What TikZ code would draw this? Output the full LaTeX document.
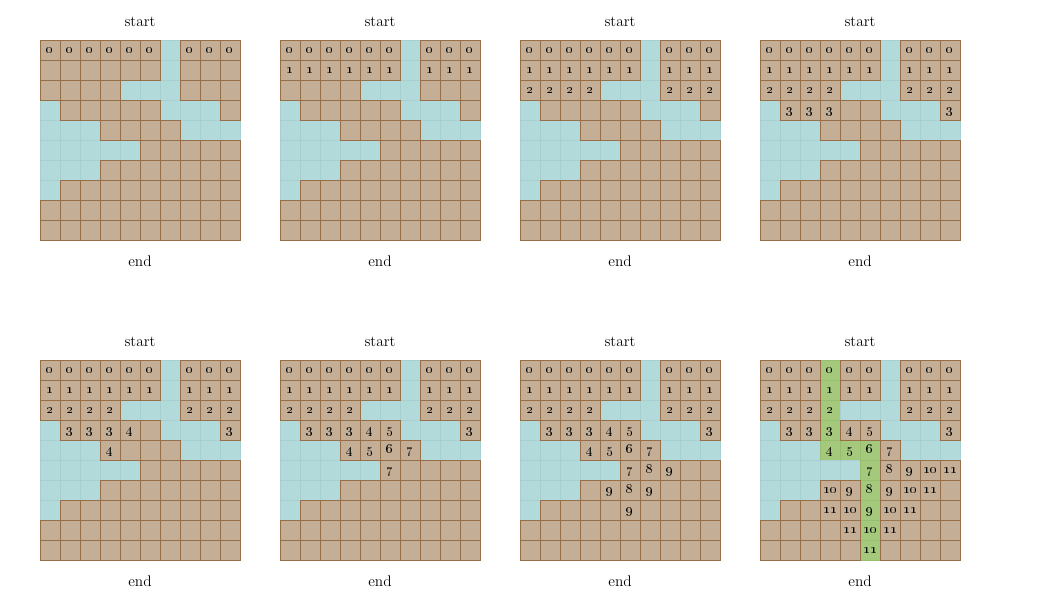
\documentclass[tikz,border=0pt]{standalone}

\definecolor{landfill}{RGB}{196,174,150}
\definecolor{landline}{RGB}{150,110,72}
\definecolor{waterfill}{RGB}{178,218,218}
\definecolor{waterline}{RGB}{166,208,208}
\definecolor{routefill}{RGB}{164,201,124}
\definecolor{routeline}{RGB}{150,190,110}

\tikzset{
  fillL/.style={fill=landfill},
  fillW/.style={fill=waterfill, draw=waterline},
  fillG/.style={fill=routefill, draw=routeline},
  edgeL/.style={draw=landline},
  edgeW/.style={},
  edgeG/.style={},
  caption/.style={font=\fontsize{11.5}{13}\selectfont, anchor=base, inner sep=0pt},
  dist/.style={font=\normalsize, anchor=base, inner sep=0pt}
}

% maps, one row per entry
\def\basemap{{L,L,L,L,L,L,W,L,L,L},{L,L,L,L,L,L,W,L,L,L},{L,L,L,L,W,W,W,L,L,L},
  {W,L,L,L,L,L,W,W,W,L},{W,W,W,L,L,L,L,W,W,W},{W,W,W,W,W,L,L,L,L,L},
  {W,W,W,L,L,L,L,L,L,L},{W,L,L,L,L,L,L,L,L,L},{L,L,L,L,L,L,L,L,L,L},
  {L,L,L,L,L,L,L,L,L,L}}
\def\routemap{{L,L,L,G,L,L,W,L,L,L},{L,L,L,G,L,L,W,L,L,L},{L,L,L,G,W,W,W,L,L,L},
  {W,L,L,G,L,L,W,W,W,L},{W,W,W,G,G,G,L,W,W,W},{W,W,W,W,W,G,L,L,L,L},
  {W,W,W,L,L,G,L,L,L,L},{W,L,L,L,L,G,L,L,L,L},{L,L,L,L,L,G,L,L,L,L},
  {L,L,L,L,L,G,L,L,L,L}}

% row/column/distance
\def\distlist{0/0/0,0/1/0,0/2/0,0/3/0,0/4/0,0/5/0,0/7/0,0/8/0,0/9/0,
  1/0/1,1/1/1,1/2/1,1/3/1,1/4/1,1/5/1,1/7/1,1/8/1,1/9/1,
  2/0/2,2/1/2,2/2/2,2/3/2,2/7/2,2/8/2,2/9/2,
  3/1/3,3/2/3,3/3/3,3/4/4,3/5/5,3/9/3,
  4/3/4,4/4/5,4/5/6,4/6/7,
  5/5/7,5/6/8,5/7/9,5/8/10,5/9/11,
  6/3/10,6/4/9,6/5/8,6/6/9,6/7/10,6/8/11,
  7/3/11,7/4/10,7/5/9,7/6/10,7/7/11,
  8/4/11,8/5/10,8/6/11,
  9/5/11}

\begin{document}
\begin{tikzpicture}[x=0.75pt, y=-0.75pt, line width=0.75pt]

  \useasboundingbox (0,0) rectangle (1041,601);

  \foreach \t [count=\p from 0] in {0,1,2,3,4,7,9,11} {
    \pgfmathsetmacro\px{40+240*mod(\p,4)}
    \pgfmathsetmacro\py{40+320*int(\p/4)}
    \ifnum\p=7 \let\map\routemap \else \let\map\basemap \fi

    % cells
    \foreach \row [count=\r from 0] in \map {
      \foreach \k [count=\c from 0] in \row {
        \path[fill\k] ({\px+20*\c},{\py+20*\r}) rectangle ++(20,20);
      }
    }
    \foreach \row [count=\r from 0] in \map {
      \foreach \k [count=\c from 0] in \row {
        \path[edge\k] ({\px+20*\c},{\py+20*\r}) rectangle ++(20,20);
      }
    }

    % distances
    \foreach \r/\c/\val in \distlist {
      \ifnum\val>\t\relax\else
        \node[dist] (d\p-\r-\c) at ({\px+20*\c+10},{\py+20*\r+13.5}) {\oldstylenums{\val}};
      \fi
    }

    % captions
    \node[caption] (start\p) at ({\px+100},{\py-14}) {start};
    \node[caption] (end\p) at ({\px+100},{\py+226}) {end};
  }

\end{tikzpicture}
\end{document}
